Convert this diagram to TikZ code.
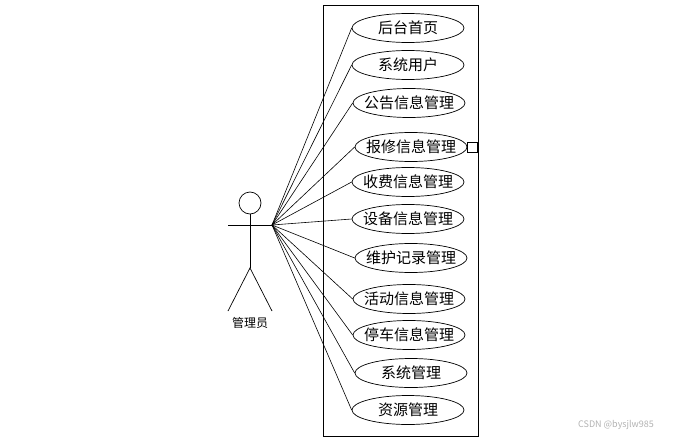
\documentclass[tikz,border=0pt]{standalone}
\usepackage{fontspec}
\newfontfamily\cjk{Noto Sans CJK SC}
\usetikzlibrary{shapes.geometric}

\begin{document}
\begin{tikzpicture}[
        x=1pt, y=1pt,
        usecase/.style={
            ellipse,
            draw=black,
            fill=white,
            line width=0.7pt,
            minimum width=112pt,
            minimum height=29pt,
            inner xsep=-6pt,
            inner ysep=0pt,
            font=\cjk\fontsize{15}{17}\selectfont
        },
        link/.style={draw=black, line width=0.6pt}
    ]

    \useasboundingbox (0,0) rectangle (676,-441);

    % 系统边界
    \draw[line width=0.8pt] (323,-5) rectangle (478,-436);

    % 参与者
    \node[circle, draw=black, line width=0.7pt, minimum size=22pt, inner sep=0pt] (head) at (250,-203) {};
    \coordinate (hand)  at (272,-225);
    \coordinate (lhand) at (228,-225);
    \coordinate (hip)   at (250,-268);
    \coordinate (lfoot) at (228,-311);
    \coordinate (rfoot) at (272,-311);
    \draw[line width=0.7pt] (lhand) -- (hand);
    \draw[line width=0.7pt] (head.south) -- (hip);
    \draw[line width=0.7pt] (lfoot) -- (hip) -- (rfoot);
    \node[font=\cjk\fontsize{12}{14}\selectfont] (admin) at (250,-323) {管理员};

    % 用例
    \node[usecase] (u1)  at (408,-28)  {后台首页};
    \node[usecase] (u2)  at (408,-65)  {系统用户};
    \node[usecase] (u3)  at (409,-103) {公告信息管理};
    \node[usecase] (u4)  at (411,-147) {报修信息管理};
    \node[usecase] (u5)  at (408,-182) {收费信息管理};
    \node[usecase] (u6)  at (408,-219) {设备信息管理};
    \node[usecase] (u7)  at (411,-258) {维护记录管理};
    \node[usecase] (u8)  at (409,-299) {活动信息管理};
    \node[usecase] (u9)  at (409,-335) {停车信息管理};
    \node[usecase] (u10) at (411,-373) {系统管理};
    \node[usecase] (u11) at (408,-410) {资源管理};

    \node[draw=black, line width=0.7pt, minimum width=10pt, minimum height=10pt, inner sep=0pt,
          anchor=west] (ext) at (u4.east) {};

    % 关联
    \foreach \u in {u1,u2,u3,u4,u5,u6,u7,u8,u9,u10,u11}
        \draw[link] (hand) -- (\u.west);

    \node[text=black!30, font=\cjk\fontsize{9}{10}\selectfont] (mark) at (616,-425) {CSDN @bysjlw985};

\end{tikzpicture}
\end{document}
